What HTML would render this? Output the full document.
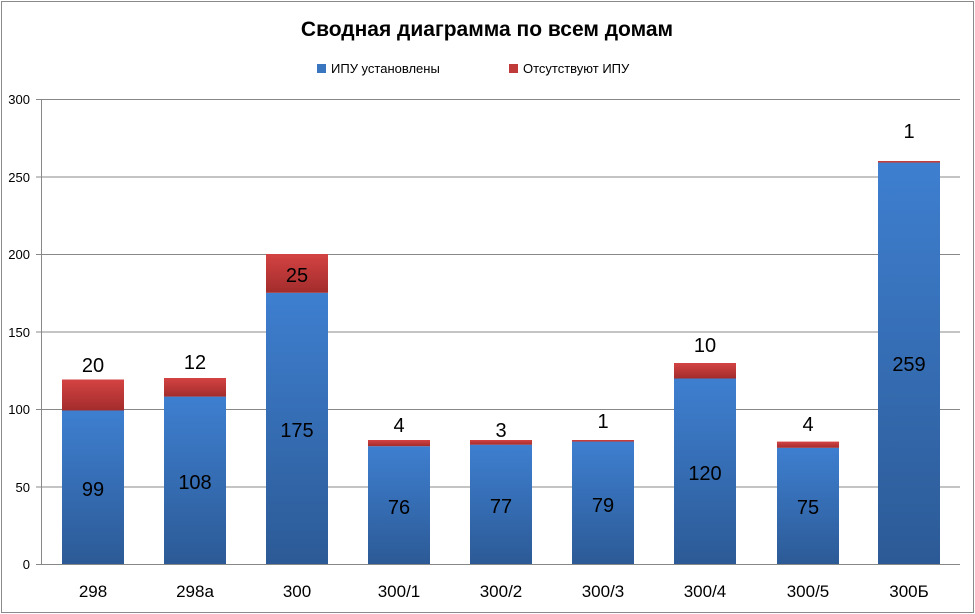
<!DOCTYPE html>
<html><head><meta charset="utf-8"><style>
html,body{margin:0;padding:0;background:#fff;}
svg{display:block;font-family:"Liberation Sans","DejaVu Sans",sans-serif;}
</style></head><body>
<svg width="975" height="614" viewBox="0 0 975 614" xmlns="http://www.w3.org/2000/svg">
<defs>
<linearGradient id="b" x1="0" y1="0" x2="0" y2="1"><stop offset="0" stop-color="#3e7fd0"/><stop offset="1" stop-color="#2c5a96"/></linearGradient>
<linearGradient id="r" x1="0" y1="0" x2="0" y2="1"><stop offset="0" stop-color="#d44343"/><stop offset="1" stop-color="#a32c2c"/></linearGradient>
</defs>
<rect x="1.5" y="1.5" width="972" height="611" fill="#fff" stroke="#8a8a8a"/>
<text x="487" y="36" text-anchor="middle" font-size="21" font-weight="bold" fill="#000">Сводная диаграмма по всем домам</text>
<rect x="317" y="64" width="9" height="9" fill="#3a75c0"/>
<text x="331" y="73" font-size="13" fill="#000">ИПУ установлены</text>
<rect x="509" y="64" width="9" height="9" fill="#c03a3a"/>
<text x="523" y="73" font-size="13" fill="#000">Отсутствуют ИПУ</text>
<g stroke="#888" stroke-width="1">
<line x1="36" y1="99.5" x2="960" y2="99.5"/>
<line x1="36" y1="177" x2="960" y2="177"/>
<line x1="36" y1="254.5" x2="960" y2="254.5"/>
<line x1="36" y1="332" x2="960" y2="332"/>
<line x1="36" y1="409.5" x2="960" y2="409.5"/>
<line x1="36" y1="487" x2="960" y2="487"/>
<line x1="36" y1="564.5" x2="960" y2="564.5"/>
<line x1="41.5" y1="99" x2="41.5" y2="564"/>
</g>
<g font-size="13" fill="#000" text-anchor="end">
<text x="30" y="104">300</text><text x="30" y="182">250</text><text x="30" y="259">200</text>
<text x="30" y="337">150</text><text x="30" y="414">100</text><text x="30" y="492">50</text><text x="30" y="569">0</text>
</g>
<g font-size="17" fill="#000" text-anchor="middle">
<text x="93" y="597">298</text><text x="195" y="597">298a</text><text x="297" y="597">300</text>
<text x="399" y="597">300/1</text><text x="501" y="597">300/2</text><text x="603" y="597">300/3</text>
<text x="705" y="597">300/4</text><text x="808" y="597">300/5</text><text x="909" y="597">300Б</text>
</g>
<g>
<rect x="62" y="410.5" width="62" height="153.5" fill="url(#b)"/><rect x="62" y="379.5" width="62" height="31" fill="url(#r)"/>
<rect x="164" y="396.6" width="62" height="167.4" fill="url(#b)"/><rect x="164" y="378" width="62" height="18.6" fill="url(#r)"/>
<rect x="266" y="292.8" width="62" height="271.2" fill="url(#b)"/><rect x="266" y="254" width="62" height="38.8" fill="url(#r)"/>
<rect x="368" y="446.2" width="62" height="117.8" fill="url(#b)"/><rect x="368" y="440" width="62" height="6.2" fill="url(#r)"/>
<rect x="470" y="444.7" width="62" height="119.3" fill="url(#b)"/><rect x="470" y="440" width="62" height="4.7" fill="url(#r)"/>
<rect x="572" y="441.6" width="62" height="122.4" fill="url(#b)"/><rect x="572" y="440" width="62" height="1.6" fill="url(#r)"/>
<rect x="674" y="378.5" width="62" height="185.5" fill="url(#b)"/><rect x="674" y="363" width="62" height="15.5" fill="url(#r)"/>
<rect x="777" y="447.8" width="62" height="116.2" fill="url(#b)"/><rect x="777" y="441.6" width="62" height="6.2" fill="url(#r)"/>
<rect x="878" y="162.6" width="62" height="401.4" fill="url(#b)"/><rect x="878" y="161" width="62" height="1.6" fill="url(#r)"/>
</g>
<g font-size="20" fill="#000" text-anchor="middle">
<text x="93" y="496">99</text><text x="195" y="489">108</text><text x="297" y="437">175</text>
<text x="399" y="514">76</text><text x="501" y="513">77</text><text x="603" y="512">79</text>
<text x="705" y="480">120</text><text x="808" y="514">75</text><text x="909" y="371">259</text>
<text x="93" y="372">20</text><text x="195" y="369">12</text><text x="297" y="282">25</text>
<text x="399" y="432">4</text><text x="501" y="437">3</text><text x="603" y="428">1</text>
<text x="705" y="352">10</text><text x="808" y="431">4</text><text x="909" y="138">1</text>
</g>
</svg>
</body></html>
